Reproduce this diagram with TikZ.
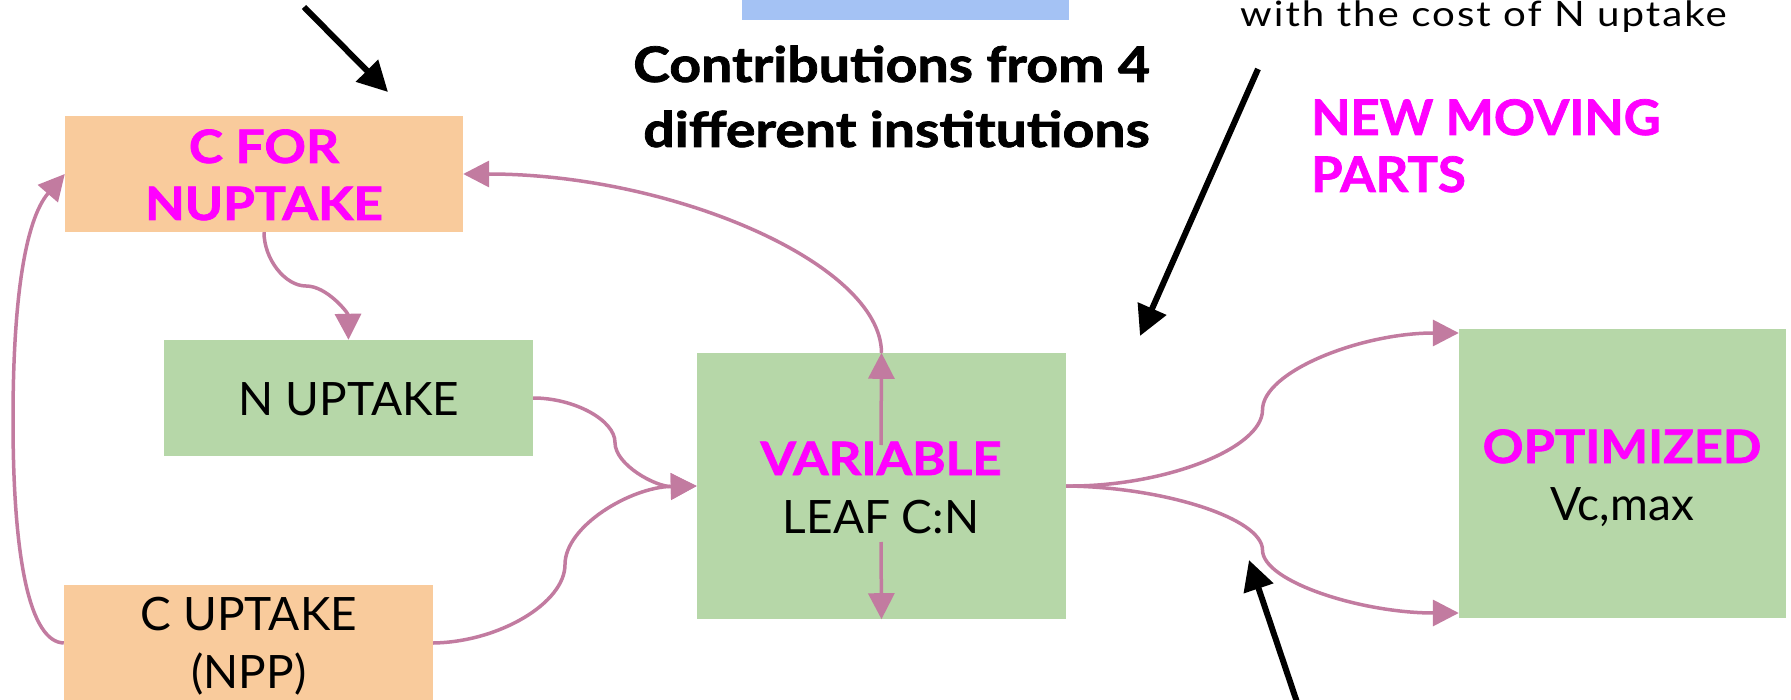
\documentclass[tikz,border=0pt]{standalone}
\usepackage{fontspec}
\usepackage{graphicx}
\setmainfont{Lato}[BoldFeatures={FakeBold=1.5}]
\usetikzlibrary{arrows.meta}
\definecolor{linkpink}{HTML}{C27BA0}
\definecolor{peach}{HTML}{F9CB9C}
\definecolor{leafgreen}{HTML}{B6D7A8}
\definecolor{skyblue}{HTML}{A4C2F4}
\definecolor{hotpink}{HTML}{FF00FF}
% widen a text horizontally, keeping its height and baseline
\newcommand\hstretch[2]{\scalebox{#1}[1]{#2}}
\begin{document}
\begin{tikzpicture}[x=1pt,y=-1pt,
  panel/.style={fill=#1, draw=none, inner sep=0pt, rectangle},
  hot/.style={font=\fontsize{46}{46}\selectfont\bfseries, text=hotpink, inner sep=0pt},
  plain/.style={font=\fontsize{46}{46}\selectfont, text=black, inner sep=0pt},
  note/.style={font=\fontsize{49}{49}\selectfont\bfseries, text=black, inner sep=0pt},
  small/.style={font=\fontsize{35}{35}\selectfont\addfontfeatures{LetterSpace=5}, text=black, inner sep=0pt},
  link/.style={draw=linkpink, line width=3.5pt, -{Triangle[length=26pt,width=26pt]}},
  pointer/.style={draw=black, line width=6pt, -{Triangle[length=30pt,width=30pt]}}]
\useasboundingbox (0,0) rectangle (1791,700);
\clip (0,0) rectangle (1791,700);

% boxes
\node[panel=skyblue, minimum width=327pt, minimum height=120pt] (topbox) at (905.5,-40) {};
\node[panel=peach, minimum width=398pt, minimum height=116pt] (cfor) at (264,174) {};
\node[panel=leafgreen, minimum width=369pt, minimum height=116pt] (nup) at (348.5,398) {};
\node[panel=peach, minimum width=369pt, minimum height=116pt] (cup) at (248.5,643) {};
\node[panel=leafgreen, minimum width=369pt, minimum height=266pt] (leaf) at (881.5,486) {};
\node[panel=leafgreen, minimum width=327pt, minimum height=289pt] (opt) at (1622.5,473.5) {};

% box labels
\node[hot, anchor=base] (cforA) at (264,163) {\hstretch{1.12}{C FOR}};
\node[hot, anchor=base] (cforB) at (264,220) {\hstretch{1.12}{NUPTAKE}};
\node[plain, anchor=base] (nupA) at (349,415) {N UPTAKE};
\node[plain, anchor=base] (cupA) at (249,630) {C UPTAKE};
\node[plain, anchor=base] (cupB) at (249,688) {(NPP)};
\node[hot, anchor=base] (leafA) at (881,475) {\hstretch{1.11}{VARIABLE}};
\node[plain, anchor=base] (leafB) at (881,533) {LEAF C:N};
\node[hot, anchor=base] (optA) at (1622,463) {\hstretch{1.1}{OPTIMIZED}};
\node[plain, anchor=base] (optB) at (1622,520) {Vc,max};

% free text
\node[note, anchor=base east] (contribA) at (1150,82) {\hstretch{1.13}{Contributions from 4}};
\node[note, anchor=base east] (contribB) at (1150,147) {\hstretch{1.13}{different institutions}};
\node[small, anchor=base west] (cost) at (1240,27) {\hstretch{1.15}{with the cost of N uptake}};
\node[hot, font=\fontsize{49}{49}\selectfont\bfseries, anchor=base west] (newA) at (1311,135) {\hstretch{1.04}{NEW MOVING}};
\node[hot, font=\fontsize{49}{49}\selectfont\bfseries, anchor=base west] (newB) at (1311,192) {\hstretch{1.04}{PARTS}};

% entry points on the left side of the optimized box
\coordinate (optIn1) at (1459,333);
\coordinate (optIn2) at (1459,613);

% pink connectors
\draw[link] (cfor.south) .. controls (264,259) and (285,286) .. (306,286)
                         .. controls (327,286) and (348,313) .. (nup.north);
\draw[link] (nup.east) .. controls (574,398) and (615,420) .. (615,442.5)
                       .. controls (615,465) and (656,487) .. (leaf.west);
\draw[link] (cup.east) .. controls (499,642) and (565,603) .. (565,564.5)
                       .. controls (565,526) and (631,487) .. (leaf.west);
\draw[link] (leaf.east) .. controls (1164,487) and (1262.5,448.5) .. (1262.5,410)
                        .. controls (1262.5,371.5) and (1361,333) .. (opt.west |- optIn1);
\draw[link] (leaf.east) .. controls (1164,487) and (1262.5,518.5) .. (1262.5,550)
                        .. controls (1262.5,581.5) and (1361,613) .. (opt.west |- optIn2);
\draw[link] (leaf.north) .. controls (881,263.5) and (672,174) .. (cfor.east);
\draw[link] (cup.west) .. controls (30,642) and (13,560) .. (13,420)
                       .. controls (13,300) and (25,220) .. (cfor.west);
\coordinate (leafUp) at (881,445);
\coordinate (leafDown) at (881,542);
\draw[link] (leafUp) -- (leaf.north);
\draw[link] (leafDown) -- (leaf.south);

% black pointers
\coordinate (pA) at (304,7);
\coordinate (pAend) at (388,92);
\coordinate (pB) at (1258,69);
\coordinate (pBend) at (1140,336);
\coordinate (pC) at (1303,720);
\coordinate (pCend) at (1249,560);
\draw[pointer] (pA) -- (pAend);
\draw[pointer] (pB) -- (pBend);
\draw[pointer] (pC) -- (pCend);
\end{tikzpicture}
\end{document}
